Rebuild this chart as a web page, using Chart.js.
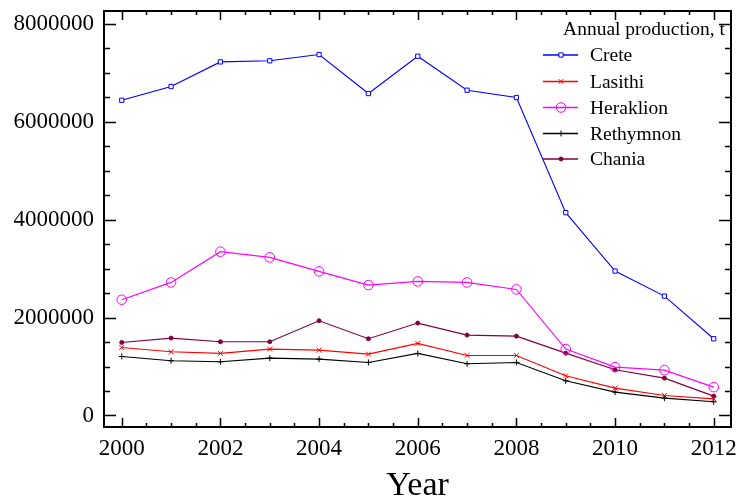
<!DOCTYPE html>
<html>
<head>
<meta charset="utf-8">
<script src="https://cdn.jsdelivr.net/npm/chart.js@4.4.0/dist/chart.umd.min.js"></script>
<style>
  html, body { margin: 0; padding: 0; background: #fff; }
  #wrap { width: 739px; height: 503px; position: relative; }
</style>
</head>
<body>
<div id="wrap"><canvas id="c" width="739" height="503"></canvas></div>
<script>
// ---- data ----
const years = [2000, 2001, 2002, 2003, 2004, 2005, 2006, 2007, 2008, 2009, 2010, 2011, 2012];
const crete     = [6435000, 6715000, 7218000, 7240000, 7368000, 6572000, 7334000, 6640000, 6490000, 4141000, 2948000, 2437000, 1566000];
const lasithi   = [1389000, 1300000, 1267000, 1355000, 1334000, 1253000, 1471000, 1226000, 1226000, 810000, 558000, 409000, 340000];
const heraklion = [2363000, 2717000, 3344000, 3228000, 2942000, 2662000, 2737000, 2717000, 2574000, 1355000, 987000, 926000, 579000];
const rethymnon = [1205000, 1117000, 1096000, 1171000, 1150000, 1083000, 1267000, 1055000, 1083000, 708000, 477000, 354000, 279000];
const chania    = [1491000, 1580000, 1505000, 1505000, 1934000, 1566000, 1886000, 1641000, 1620000, 1273000, 933000, 763000, 395000];
const xTickLabels = [2000, 2002, 2004, 2006, 2008, 2010, 2012];
const yTickLabels = [0, 2000000, 4000000, 6000000, 8000000];
const legendTitle = 'Annual production, t';
const xTitle = 'Year';

const FONT = "'Liberation Serif', 'Times New Roman', serif";

function pts(arr) { return arr.map((v, i) => ({ x: years[i], y: v })); }

const datasets = [
  { label: 'Crete', data: pts(crete), borderColor: '#0000ff', backgroundColor: '#ffffff',
    pointStyle: 'rect', pointRadius: 3, pointBorderWidth: 1 },
  { label: 'Lasithi', data: pts(lasithi), borderColor: '#ff0000', backgroundColor: '#ff0000',
    pointStyle: 'crossRot', pointRadius: 3.5, pointBorderWidth: 1 },
  { label: 'Heraklion', data: pts(heraklion), borderColor: '#ff00ff', backgroundColor: 'rgba(255,255,255,0)',
    pointStyle: 'circle', pointRadius: 4.8, pointBorderWidth: 1 },
  { label: 'Rethymnon', data: pts(rethymnon), borderColor: '#000000', backgroundColor: '#000000',
    pointStyle: 'cross', pointRadius: 3, pointBorderWidth: 1 },
  { label: 'Chania', data: pts(chania), borderColor: '#800040', backgroundColor: '#800040',
    pointStyle: 'circle', pointRadius: 2, pointBorderWidth: 1 }
].map(d => Object.assign({ borderWidth: 1.1, fill: false, tension: 0, pointHoverRadius: d.pointRadius }, d));

const frameTicks = {
  id: 'frameTicks',
  afterDatasetsDraw(chart) {
    const { ctx, chartArea: a, scales: { x, y } } = chart;
    ctx.save();
    ctx.strokeStyle = '#000';
    ctx.lineWidth = 1.5;
    ctx.beginPath();
    for (let v = 2000; v <= 2012.001; v += 0.5) {
      const px = Math.round(x.getPixelForValue(v)) + 0.5;
      const major = Math.abs(v % 2) < 1e-6;
      const len = major ? 9 : 4;
      ctx.moveTo(px, a.bottom); ctx.lineTo(px, a.bottom - len);
      ctx.moveTo(px, a.top); ctx.lineTo(px, a.top + len);
    }
    for (let v = 0; v <= 8000000; v += 500000) {
      const py = Math.round(y.getPixelForValue(v)) + 0.5;
      const major = v % 2000000 === 0;
      const len = major ? 12 : 6;
      ctx.moveTo(a.left, py); ctx.lineTo(a.left + len, py);
      ctx.moveTo(a.right, py); ctx.lineTo(a.right - len, py);
    }
    ctx.stroke();
    ctx.lineWidth = 2;
    ctx.strokeRect(a.left, a.top, a.right - a.left, a.bottom - a.top);
    ctx.restore();
  }
};

const customLegend = {
  id: 'customLegend',
  afterDraw(chart) {
    const { ctx } = chart;
    ctx.save();
    ctx.fillStyle = '#000';
    ctx.font = "19.5px " + FONT;
    ctx.textBaseline = 'middle';
    ctx.textAlign = 'right';
    ctx.fillText(legendTitle, 725, 30);
    ctx.textAlign = 'left';
    const x0 = 543, x1 = 578, xm = 561, xt = 590;
    const ys = [55, 81.5, 107.5, 133.5, 159];
    chart.data.datasets.forEach((d, i) => {
      const yy = ys[i];
      ctx.strokeStyle = d.borderColor;
      ctx.lineWidth = 1.5;
      ctx.beginPath(); ctx.moveTo(x0, yy); ctx.lineTo(x1, yy); ctx.stroke();
      ctx.lineWidth = 1;
      ctx.fillStyle = d.backgroundColor;
      ctx.strokeStyle = d.borderColor;
      Chart.helpers.drawPoint(ctx, { pointStyle: d.pointStyle, radius: d.pointRadius, borderWidth: 1, rotation: 0 }, xm, yy);
      ctx.fillStyle = '#000';
      ctx.fillText(d.label, xt, yy + 1);
    });
    ctx.restore();
  }
};

new Chart(document.getElementById('c'), {
  type: 'line',
  data: { datasets },
  options: {
    responsive: false,
    animation: false,
    events: [],
    layout: { padding: { left: 0, right: 8, top: 11, bottom: 0 } },
    plugins: { legend: { display: false }, tooltip: { enabled: false } },
    scales: {
      x: {
        type: 'linear', min: 1999.64, max: 2012.35,
        afterBuildTicks(s) { s.ticks = xTickLabels.map(v => ({ value: v })); },
        afterFit(s) { s.height = 76; s.paddingLeft = 0; s.paddingRight = 0; },
        grid: { display: false, drawTicks: false },
        border: { display: false },
        ticks: { color: '#000', font: { family: FONT, size: 23 }, padding: 8, maxRotation: 0, autoSkip: false,
                 callback: v => String(v) },
        title: { display: true, text: xTitle, color: '#000', font: { family: FONT, size: 34, lineHeight: 1.0 }, padding: { top: 0, bottom: 0 }, align: 'center' }
      },
      y: {
        type: 'linear', min: -235000, max: 8257000,
        afterBuildTicks(s) { s.ticks = yTickLabels.map(v => ({ value: v })); },
        afterFit(s) { s.width = 104; s.paddingTop = 0; s.paddingBottom = 0; },
        grid: { display: false, drawTicks: false },
        border: { display: false },
        ticks: { color: '#000', font: { family: FONT, size: 23 }, padding: 10, autoSkip: false,
                 callback: v => String(v) }
      }
    }
  },
  plugins: [frameTicks, customLegend]
});
</script>
</body>
</html>
